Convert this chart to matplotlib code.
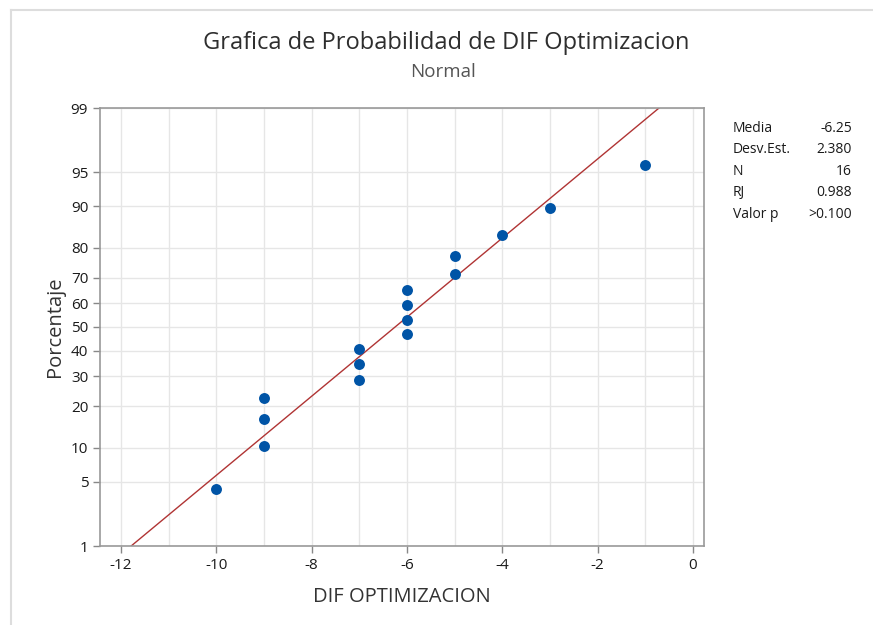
import numpy as np
import matplotlib
matplotlib.use("Agg")
import matplotlib.pyplot as plt
from matplotlib.lines import Line2D
from statistics import NormalDist

plt.rcParams['font.family'] = ['Open Sans', 'DejaVu Sans']

# Data
x_values = [-10, -9, -9, -9, -7, -7, -7, -6, -6, -6, -6, -5, -5, -4, -3, -1]
percent = [4.3, 10.4, 16.5, 22.6, 28.7, 34.8, 40.9, 47.0,
           53.0, 59.1, 65.2, 71.3, 77.4, 83.5, 89.6, 95.7]
mean_val = -6.25
sd_val = 2.380
fit_pct = [1, 99]
y_ticks = [1, 5, 10, 20, 30, 40, 50, 60, 70, 80, 90, 95, 99]
x_ticks = [-12, -10, -8, -6, -4, -2, 0]
x_grid = list(range(-12, 1))
stats_labels = ["Media", "Desv.Est.", "N", "RJ", "Valor p"]
stats_values = ["-6.25", "2.380", "16", "0.988", ">0.100"]

_nd = NormalDist()

def fwd(p):
    p = np.asarray(p, dtype=float)
    q = np.clip(p / 100.0, 1e-9, 1 - 1e-9)
    return np.array([_nd.inv_cdf(v) for v in q.ravel()]).reshape(q.shape)

def inv(z):
    z = np.asarray(z, dtype=float)
    return np.array([_nd.cdf(v) * 100.0 for v in z.ravel()]).reshape(z.shape)

fig = plt.figure(figsize=(8.73, 6.25), dpi=100)
W, H = 873, 625
ax = fig.add_axes([100 / W, 1 - 546 / H, (704 - 100) / W, (546 - 108) / H])
ax.set_yscale('function', functions=(fwd, inv))
ax.set_ylim(1, 99)
ax.set_xlim(-12.44, 0.23)

# grid
for g in x_grid:
    ax.axvline(g, color='#e6e6e6', lw=1.0, zorder=0)
for t in y_ticks:
    ax.axhline(t, color='#e6e6e6', lw=1.0, zorder=0)

# fitted line
fit_x = [mean_val + _nd.inv_cdf(p / 100) * sd_val for p in fit_pct]
ax.plot(fit_x, fit_pct, color='#b03434', lw=1.0, zorder=2)

ax.scatter(x_values, percent, s=62, color='#0054a6', zorder=3, linewidths=0)

ax.set_yticks(y_ticks)
ax.set_yticklabels([str(t) for t in y_ticks])
ax.set_xticks(x_ticks)
ax.set_xticklabels([str(t) for t in x_ticks])
ax.yaxis.set_minor_locator(matplotlib.ticker.NullLocator())
ax.tick_params(axis='both', colors='#888888', labelcolor='#1a1a1a', labelsize=11,
               length=5, width=1, direction='out')
for s in ax.spines.values():
    s.set_color('#999999')
    s.set_linewidth(1.2)

ax.set_xlabel("DIF OPTIMIZACION", fontsize=14.5, color='#333333', labelpad=10)
ax.set_ylabel("Porcentaje", fontsize=14.5, color='#333333', labelpad=4)

fig.text(446 / W, 1 - 43 / H, "Grafica de Probabilidad de DIF Optimizacion",
         ha='center', va='center', fontsize=17, color='#2e2e2e', fontweight='medium')
fig.text(443 / W, 1 - 72 / H, "Normal", ha='center', va='center',
         fontsize=13.5, color='#555555')

for i, (lab, val) in enumerate(zip(stats_labels, stats_values)):
    yy = 1 - (128 + i * 21.5) / H
    fig.text(733 / W, yy, lab, ha='left', va='center', fontsize=10, color='#1a1a1a')
    fig.text(852 / W, yy, val, ha='right', va='center', fontsize=10, color='#1a1a1a')

# figure frame lines (top and left)
fig.add_artist(Line2D([11 / W, 11 / W], [0, 1 - 10 / H], transform=fig.transFigure,
                      color='#dddddd', lw=1.5))
fig.add_artist(Line2D([11 / W, 1], [1 - 10 / H, 1 - 10 / H], transform=fig.transFigure,
                      color='#dddddd', lw=1.5))

fig.savefig("out.png", dpi=100)
